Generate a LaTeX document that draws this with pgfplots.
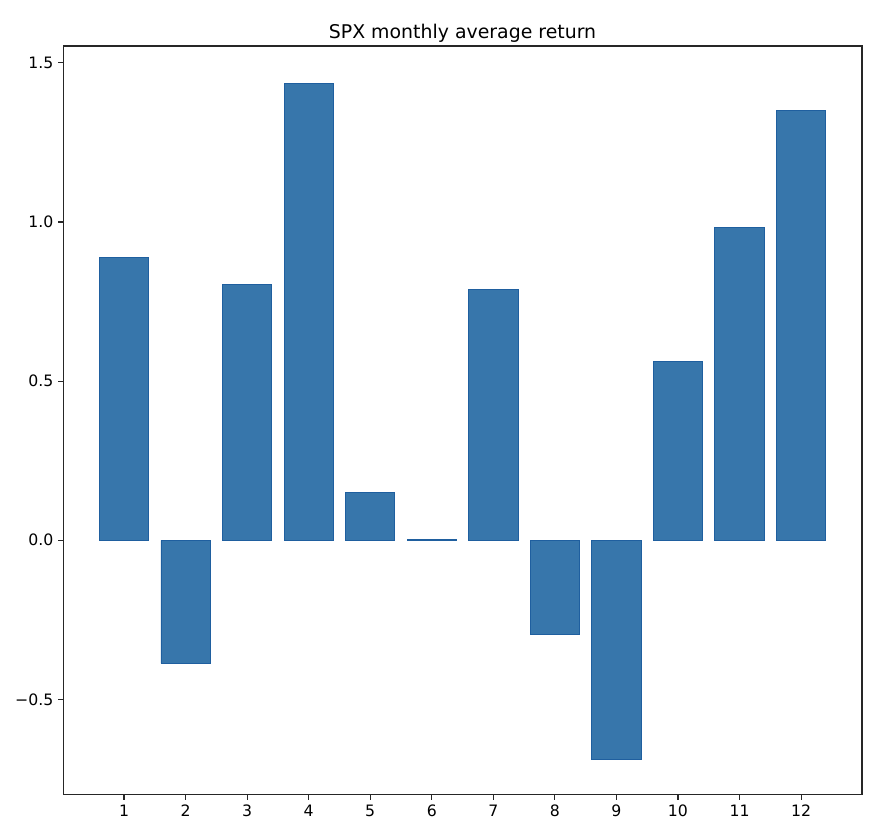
\documentclass[border=0pt]{standalone}
\usepackage{fontspec}
\setmainfont{DejaVu Sans}
\usepackage{pgfplots}
\pgfplotsset{compat=1.18}
\definecolor{barfill}{HTML}{3776AB}
\definecolor{baredge}{HTML}{1F5F9F}
\begin{document}
\begin{tikzpicture}
\begin{axis}[
  width=575pt, height=539pt,
  scale only axis,
  xmin=0.01, xmax=12.99,
  ymin=-0.80, ymax=1.553,
  xtick={1,...,12},
  ytick={-0.5,0,0.5,1,1.5},
  yticklabels={−0.5,0.0,0.5,1.0,1.5},
  /pgf/number format/assume math mode=true,
  tick label style={font=\fontsize{11.3}{13}\selectfont},
  tick align=outside,
  tick pos=left,
  major tick length=3.5pt,
  axis line style={line width=0.8pt, black!85},
  every tick/.style={black!85, line width=0.8pt},
  title={SPX monthly average return},
  title style={font=\fontsize{13.6}{16}\selectfont, yshift=-7pt},
  ybar, bar width=0.8, bar shift=0pt,
]
\addplot[fill=barfill, draw=baredge, line width=0.6pt] coordinates {
(1,0.890) (2,-0.387) (3,0.805) (4,1.434) (5,0.151) (6,0.003)
(7,0.789) (8,-0.296) (9,-0.689) (10,0.563) (11,0.984) (12,1.349)
};
\end{axis}
\path (current axis.south west) ++(-45.4pt,-31pt) coordinate (a);
\path (current axis.north east) ++(21.6pt,33.1pt) coordinate (b);
\path (a) rectangle (b);
\end{tikzpicture}
\end{document}
